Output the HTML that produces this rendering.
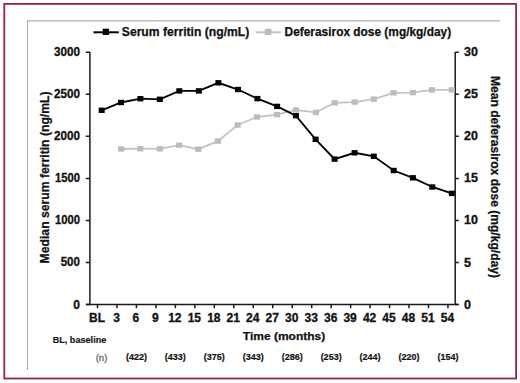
<!DOCTYPE html>
<html><head><meta charset="utf-8"><style>
html,body{margin:0;padding:0;background:#fff;}
body{width:520px;height:383px;overflow:hidden;}
svg{display:block;}
text{font-family:"Liberation Sans",sans-serif;}
</style></head><body>
<svg width="520" height="383" viewBox="0 0 520 383">
<rect x="0" y="0" width="520" height="383" fill="#fff"/>

<rect x="4.3" y="3.9" width="511.8" height="374.6" fill="none" stroke="#982443" stroke-width="1.8"/>
<path d="M27 20.9H500M27.5 20.4V370" stroke="#adadad" stroke-width="1.1" fill="none"/>
<g stroke="#1a1a1a" stroke-width="1.5" fill="none">
<path d="M89.9 52V305.2M455.2 52V305.2M86 304.5H458.5"/>
<path d="M85.8 52.30H89.9M455.2 52.30H458.8"/>
<path d="M85.8 94.33H89.9M455.2 94.33H458.8"/>
<path d="M85.8 136.36H89.9M455.2 136.36H458.8"/>
<path d="M85.8 178.39H89.9M455.2 178.39H458.8"/>
<path d="M85.8 220.42H89.9M455.2 220.42H458.8"/>
<path d="M85.8 262.45H89.9M455.2 262.45H458.8"/>
<path d="M85.8 304.48H89.9M455.2 304.48H458.8"/>
<path d="M97.50 304.5V308.2"/>
<path d="M116.97 304.5V308.2"/>
<path d="M136.44 304.5V308.2"/>
<path d="M155.91 304.5V308.2"/>
<path d="M175.38 304.5V308.2"/>
<path d="M194.85 304.5V308.2"/>
<path d="M214.32 304.5V308.2"/>
<path d="M233.79 304.5V308.2"/>
<path d="M253.26 304.5V308.2"/>
<path d="M272.73 304.5V308.2"/>
<path d="M292.20 304.5V308.2"/>
<path d="M311.67 304.5V308.2"/>
<path d="M331.14 304.5V308.2"/>
<path d="M350.61 304.5V308.2"/>
<path d="M370.08 304.5V308.2"/>
<path d="M389.55 304.5V308.2"/>
<path d="M409.02 304.5V308.2"/>
<path d="M428.49 304.5V308.2"/>
<path d="M447.96 304.5V308.2"/>
</g>
<g font-size="12" font-weight="bold" fill="#111" stroke="#111" stroke-width="0.3" text-anchor="end">
<text x="79.9" y="55.60" textLength="26.0" lengthAdjust="spacingAndGlyphs">3000</text>
<text x="79.9" y="97.77" textLength="26.0" lengthAdjust="spacingAndGlyphs">2500</text>
<text x="79.9" y="139.94" textLength="26.0" lengthAdjust="spacingAndGlyphs">2000</text>
<text x="79.9" y="182.11" textLength="25.0" lengthAdjust="spacingAndGlyphs">1500</text>
<text x="79.9" y="224.28" textLength="25.0" lengthAdjust="spacingAndGlyphs">1000</text>
<text x="79.9" y="266.45" textLength="19.2" lengthAdjust="spacingAndGlyphs">500</text>
<text x="79.9" y="308.62" textLength="6.7" lengthAdjust="spacingAndGlyphs">0</text>
</g>
<g font-size="12" font-weight="bold" fill="#111" stroke="#111" stroke-width="0.3" text-anchor="start">
<text x="464.1" y="55.80" textLength="13.9" lengthAdjust="spacingAndGlyphs">30</text>
<text x="464.1" y="97.97" textLength="13.9" lengthAdjust="spacingAndGlyphs">25</text>
<text x="464.1" y="140.14" textLength="13.9" lengthAdjust="spacingAndGlyphs">20</text>
<text x="464.1" y="182.31" textLength="13.9" lengthAdjust="spacingAndGlyphs">15</text>
<text x="464.1" y="224.48" textLength="13.9" lengthAdjust="spacingAndGlyphs">10</text>
<text x="464.1" y="266.65" textLength="7.0" lengthAdjust="spacingAndGlyphs">5</text>
<text x="464.1" y="308.82" textLength="7.0" lengthAdjust="spacingAndGlyphs">0</text>
</g>
<g font-size="12" font-weight="bold" fill="#111" stroke="#111" stroke-width="0.3" text-anchor="middle">
<text x="97.00" y="321.8">BL</text>
<text x="116.47" y="321.8">3</text>
<text x="135.94" y="321.8">6</text>
<text x="155.41" y="321.8">9</text>
<text x="174.88" y="321.8">12</text>
<text x="194.35" y="321.8">15</text>
<text x="213.82" y="321.8">18</text>
<text x="233.29" y="321.8">21</text>
<text x="252.76" y="321.8">24</text>
<text x="272.23" y="321.8">27</text>
<text x="291.70" y="321.8">30</text>
<text x="311.17" y="321.8">33</text>
<text x="330.64" y="321.8">36</text>
<text x="350.11" y="321.8">39</text>
<text x="369.58" y="321.8">42</text>
<text x="389.05" y="321.8">45</text>
<text x="408.52" y="321.8">48</text>
<text x="427.99" y="321.8">51</text>
<text x="447.46" y="321.8">54</text>
</g>
<polyline points="121.2,149.0 140.3,148.7 159.8,148.8 179.2,145.2 198.4,149.2 217.9,141.1 237.6,125.0 256.9,117.0 276.9,114.6 295.9,110.0 315.9,112.4 334.7,102.8 354.6,102.1 373.8,99.1 393.5,92.8 412.9,92.6 431.9,89.9 451.8,89.9" fill="none" stroke="#c4c4c4" stroke-width="1.8"/>
<rect x="118.1" y="146.3" width="6.2" height="5.4" fill="#bcbcbc"/>
<rect x="137.2" y="146.0" width="6.2" height="5.4" fill="#bcbcbc"/>
<rect x="156.7" y="146.1" width="6.2" height="5.4" fill="#bcbcbc"/>
<rect x="176.1" y="142.5" width="6.2" height="5.4" fill="#bcbcbc"/>
<rect x="195.3" y="146.5" width="6.2" height="5.4" fill="#bcbcbc"/>
<rect x="214.8" y="138.4" width="6.2" height="5.4" fill="#bcbcbc"/>
<rect x="234.5" y="122.3" width="6.2" height="5.4" fill="#bcbcbc"/>
<rect x="253.8" y="114.3" width="6.2" height="5.4" fill="#bcbcbc"/>
<rect x="273.8" y="111.9" width="6.2" height="5.4" fill="#bcbcbc"/>
<rect x="292.8" y="107.3" width="6.2" height="5.4" fill="#bcbcbc"/>
<rect x="312.8" y="109.7" width="6.2" height="5.4" fill="#bcbcbc"/>
<rect x="331.6" y="100.1" width="6.2" height="5.4" fill="#bcbcbc"/>
<rect x="351.5" y="99.4" width="6.2" height="5.4" fill="#bcbcbc"/>
<rect x="370.7" y="96.4" width="6.2" height="5.4" fill="#bcbcbc"/>
<rect x="390.4" y="90.1" width="6.2" height="5.4" fill="#bcbcbc"/>
<rect x="409.8" y="89.9" width="6.2" height="5.4" fill="#bcbcbc"/>
<rect x="428.8" y="87.2" width="6.2" height="5.4" fill="#bcbcbc"/>
<rect x="448.7" y="87.2" width="6.2" height="5.4" fill="#bcbcbc"/>
<polyline points="101.7,110.3 121.0,102.5 140.4,98.7 159.8,99.3 179.3,90.9 198.8,90.9 218.4,82.8 238.0,89.5 257.4,98.6 277.1,106.4 295.9,115.7 315.6,139.3 334.6,159.1 354.6,152.8 373.8,156.3 393.7,170.5 412.9,177.8 432.3,187.0 451.8,193.4" fill="none" stroke="#000" stroke-width="1.85"/>
<rect x="98.7" y="107.6" width="6" height="5.4" fill="#000"/>
<rect x="118.0" y="99.8" width="6" height="5.4" fill="#000"/>
<rect x="137.4" y="96.0" width="6" height="5.4" fill="#000"/>
<rect x="156.8" y="96.6" width="6" height="5.4" fill="#000"/>
<rect x="176.3" y="88.2" width="6" height="5.4" fill="#000"/>
<rect x="195.8" y="88.2" width="6" height="5.4" fill="#000"/>
<rect x="215.4" y="80.1" width="6" height="5.4" fill="#000"/>
<rect x="235.0" y="86.8" width="6" height="5.4" fill="#000"/>
<rect x="254.4" y="95.9" width="6" height="5.4" fill="#000"/>
<rect x="274.1" y="103.7" width="6" height="5.4" fill="#000"/>
<rect x="292.9" y="113.0" width="6" height="5.4" fill="#000"/>
<rect x="312.6" y="136.6" width="6" height="5.4" fill="#000"/>
<rect x="331.6" y="156.4" width="6" height="5.4" fill="#000"/>
<rect x="351.6" y="150.1" width="6" height="5.4" fill="#000"/>
<rect x="370.8" y="153.6" width="6" height="5.4" fill="#000"/>
<rect x="390.7" y="167.8" width="6" height="5.4" fill="#000"/>
<rect x="409.9" y="175.1" width="6" height="5.4" fill="#000"/>
<rect x="429.3" y="184.3" width="6" height="5.4" fill="#000"/>
<rect x="448.8" y="190.7" width="6" height="5.4" fill="#000"/>
<path d="M93.5 32.3H118.8" stroke="#000" stroke-width="2"/><rect x="102.7" y="28.7" width="6.4" height="6.3" fill="#000"/>
<text x="121.8" y="35.7" font-size="12" font-weight="bold" fill="#111" stroke="#111" stroke-width="0.25" textLength="127.5" lengthAdjust="spacingAndGlyphs">Serum ferritin (ng/mL)</text>
<path d="M255.8 32.3H280.8" stroke="#c4c4c4" stroke-width="2"/><rect x="264.8" y="28.7" width="6.6" height="6.3" fill="#bcbcbc"/>
<text x="284.6" y="35.7" font-size="12" font-weight="bold" fill="#111" stroke="#111" stroke-width="0.25" textLength="166.5" lengthAdjust="spacingAndGlyphs">Deferasirox dose (mg/kg/day)</text>
<text transform="translate(48.6 263.4) rotate(-90)" font-size="12" font-weight="bold" fill="#111" stroke="#111" stroke-width="0.25" textLength="172" lengthAdjust="spacingAndGlyphs">Median serum ferritin (ng/mL)</text>
<text transform="translate(490.8 76.0) rotate(90)" font-size="12" font-weight="bold" fill="#111" stroke="#111" stroke-width="0.25" textLength="202" lengthAdjust="spacingAndGlyphs">Mean deferasirox dose (mg/kg/day)</text>
<text x="242.8" y="339.9" font-size="11.8" font-weight="bold" fill="#111" stroke="#111" stroke-width="0.25" textLength="82.4" lengthAdjust="spacingAndGlyphs">Time (months)</text>
<text x="52.7" y="342.7" font-size="8.6" font-weight="bold" fill="#1a1a1a" stroke="#1a1a1a" stroke-width="0.2" textLength="53.6" lengthAdjust="spacingAndGlyphs">BL, baseline</text>
<text x="95.7" y="361.2" font-size="9.2" fill="#6a6a6a" stroke="#6a6a6a" stroke-width="0.3" textLength="11.7" lengthAdjust="spacingAndGlyphs">(n)</text>
<g font-size="9" font-weight="bold" fill="#111" stroke="#111" stroke-width="0.2" text-anchor="middle">
<text x="136.44" y="360.4">(422)</text>
<text x="175.38" y="360.4">(433)</text>
<text x="214.32" y="360.4">(375)</text>
<text x="253.26" y="360.4">(343)</text>
<text x="292.20" y="360.4">(286)</text>
<text x="331.14" y="360.4">(253)</text>
<text x="370.08" y="360.4">(244)</text>
<text x="409.02" y="360.4">(220)</text>
<text x="447.96" y="360.4">(154)</text>
</g>
</svg></body></html>
